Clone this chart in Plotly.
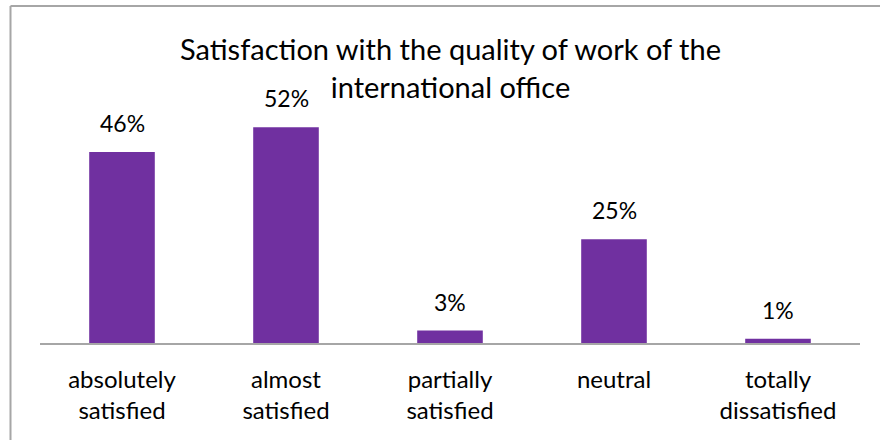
import plotly.graph_objects as go

# Survey results
categories = ["absolutely<br>satisfied", "almost<br>satisfied", "partially<br>satisfied",
              "neutral", "totally<br>dissatisfied"]
shares = [46, 52, 3, 25, 1]
labels = [f"{v}%" for v in shares]
title_text = "Satisfaction with the quality of work of the<br>international office"

W, H = 880, 440
ML, MR, MT, MB = 40, 20, 100, 97
PX_PER_UNIT = 4.15
plot_h = H - MT - MB
plot_w = W - ML - MR

FONT = "Lato, 'Open Sans', sans-serif"
PURPLE = "#7030A0"


def px_x(p):
    return (p - ML) / plot_w


def px_y(p):
    return (H - MB - p) / plot_h


fig = go.Figure(
    go.Bar(
        x=categories,
        y=shares,
        marker=dict(color=PURPLE, line=dict(width=0)),
        hoverinfo="skip",
    )
)

for cat, val, txt in zip(categories, shares, labels):
    fig.add_annotation(
        x=cat, y=val, text=txt, showarrow=False,
        yanchor="bottom", yshift=13,
        font=dict(family=FONT, size=23, color="#000000"),
    )

# chart title
fig.add_annotation(
    xref="paper", yref="paper", x=px_x(W / 2 + 10), y=px_y(67),
    xanchor="center", yanchor="middle", showarrow=False,
    text=title_text, font=dict(family=FONT, size=29, color="#000000"),
)

# chart frame (top and left edges)
frame = dict(color="#A6A6A6", width=2)
fig.add_shape(type="line", xref="paper", yref="paper",
              x0=px_x(10.5), x1=px_x(W + 5), y0=px_y(6), y1=px_y(6), line=frame)
fig.add_shape(type="line", xref="paper", yref="paper",
              x0=px_x(10.5), x1=px_x(10.5), y0=px_y(6), y1=px_y(H + 5), line=frame)

fig.update_layout(
    width=W, height=H,
    margin=dict(l=ML, r=MR, t=MT, b=MB),
    paper_bgcolor="white", plot_bgcolor="white",
    bargap=0.6,
    showlegend=False,
    xaxis=dict(
        showgrid=False, zeroline=False,
        showline=True, linecolor="#A6A6A6", linewidth=2,
        ticks="", ticklabelstandoff=14,
        tickfont=dict(family=FONT, size=24, color="#000000"),
        fixedrange=True,
    ),
    yaxis=dict(
        range=[0, plot_h / PX_PER_UNIT],
        visible=False, fixedrange=True,
    ),
)

fig.write_html("out.html")
